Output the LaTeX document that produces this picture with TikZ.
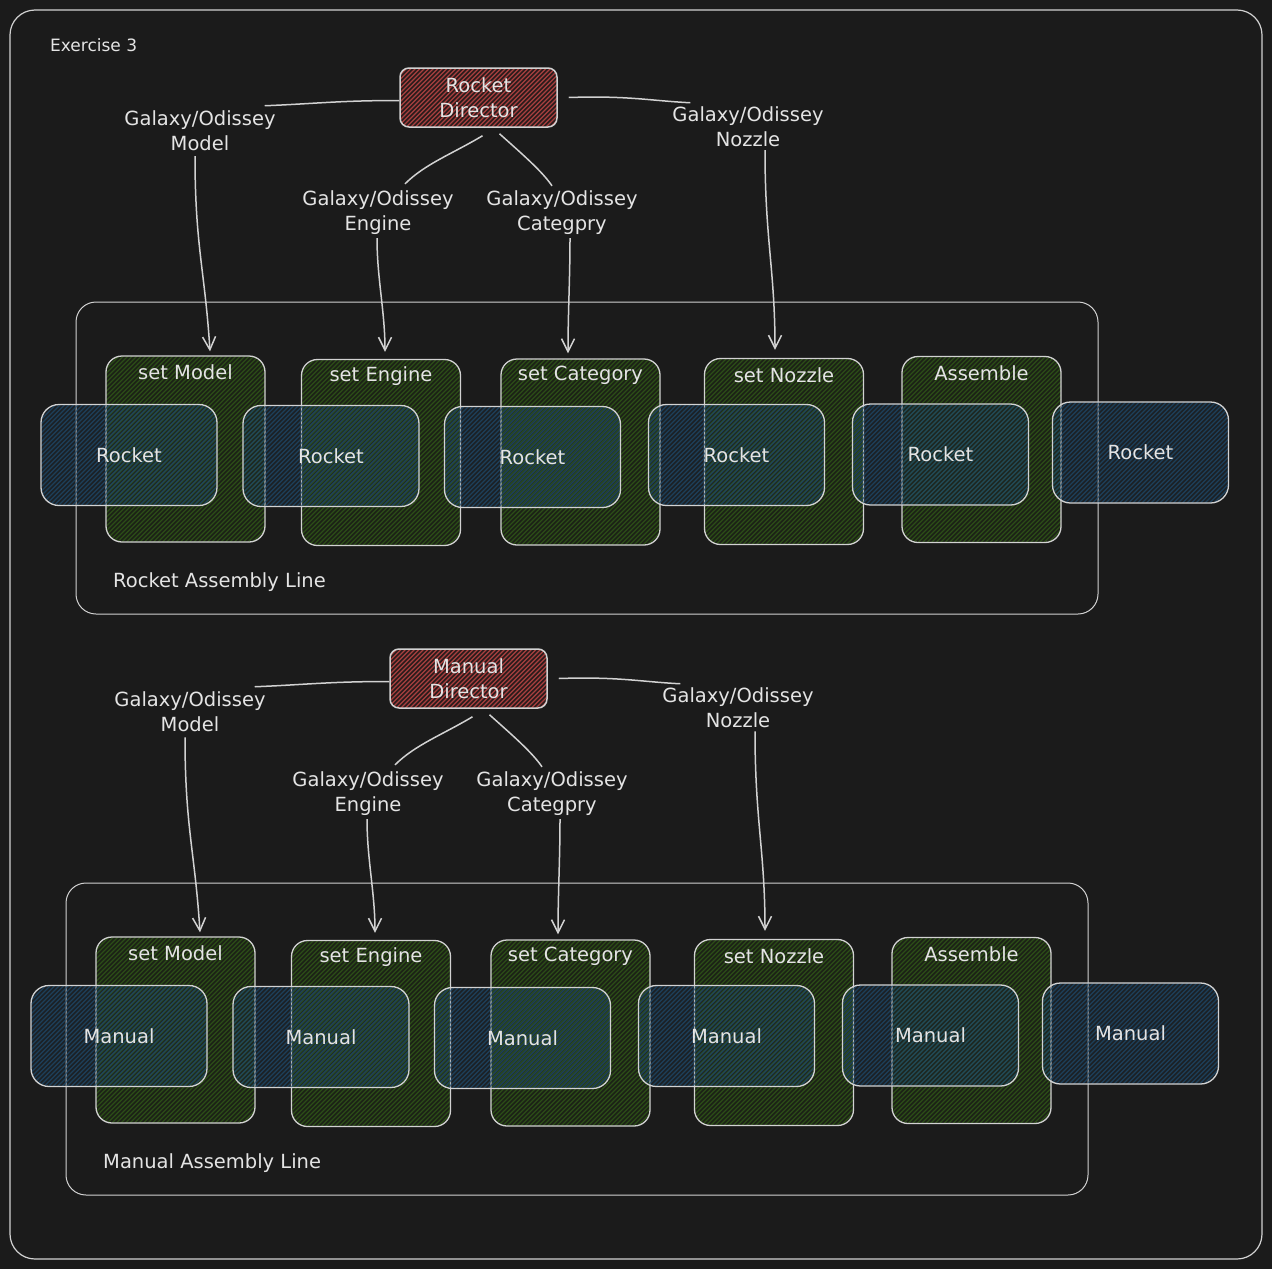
\documentclass[tikz,border=0pt]{standalone}
\usepackage{fontspec}
\setmainfont{DejaVu Sans}
\usetikzlibrary{arrows.meta,calc}
\definecolor{bgc}{HTML}{1B1B1B}
\definecolor{strokec}{HTML}{D2D2D2}
\definecolor{textc}{HTML}{E4E4E4}
\definecolor{redbase}{HTML}{2B1C1C}
\definecolor{redline}{HTML}{A8403F}
\definecolor{greenbase}{HTML}{1C2216}
\definecolor{greenline}{HTML}{2C4D18}
\definecolor{bluebase}{HTML}{1D3A52}
\definecolor{blueline}{HTML}{1F4A6C}
\tikzset{
  hatch/.style={path picture={
    \foreach \i in {-200,-195.5,...,200}{
      \draw[#1, line width=1.1pt] ([shift={(\i,0)}]path picture bounding box.center) +(-200,200) -- +(200,-200);}}},
  txt/.style={text=textc, font=\fontsize{19.5}{25}\selectfont, align=center, inner sep=0pt},
  frame/.style={draw=strokec, line width=1.2pt, rounded corners=25pt},
  container/.style={draw=strokec, line width=1pt, rounded corners=20pt, minimum width=1022pt, minimum height=312pt},
  dirbox/.style={txt, draw=strokec, line width=1.5pt, rounded corners=9pt, fill=redbase, hatch=redline,
    minimum width=157pt, minimum height=59pt},
  stepbox/.style={draw=strokec, line width=1.3pt, rounded corners=16pt, fill=greenbase, hatch=greenline,
    minimum width=159pt, minimum height=186pt},
  objbox/.style={txt, draw=strokec, line width=1.3pt, rounded corners=18pt,
    fill=bluebase, fill opacity=0.2, draw opacity=1, text opacity=1,
    hatch={blueline, opacity=0.75},
    minimum width=176pt, minimum height=101pt},
  conn/.style={draw=strokec, line width=1.5pt},
  arr/.style={conn, -{Straight Barb[length=13pt,width=13pt,line width=1.5pt]}},
}
\newcommand\asmline[3]{%
\begin{scope}[shift={#3}]
  \node[container] (#2line) at (587,458) {};
  \node[txt, anchor=west] (#2linelbl) at (113,582) {#1 Assembly Line};
  % step boxes
  \node[stepbox] (#2s1) at (185.5,449) {};
  \node[stepbox] (#2s2) at (381,452.5) {};
  \node[stepbox] (#2s3) at (580.5,452) {};
  \node[stepbox] (#2s4) at (784,451.5) {};
  \node[stepbox] (#2s5) at (981.5,449.5) {};
  \node[txt] (#2t1) at ([shift={(0,17)}]#2s1.north) {set Model};
  \node[txt] (#2t2) at ([shift={(0,17)}]#2s2.north) {set Engine};
  \node[txt] (#2t3) at ([shift={(0,17)}]#2s3.north) {set Category};
  \node[txt] (#2t4) at ([shift={(0,17)}]#2s4.north) {set Nozzle};
  \node[txt] (#2t5) at ([shift={(0,17)}]#2s5.north) {Assemble};
  % objects
  \node[objbox] (#2o1) at (129,455) {#1};
  \node[objbox] (#2o2) at (331,456) {#1};
  \node[objbox] (#2o3) at (532.5,457) {#1};
  \node[objbox] (#2o4) at (736.5,455) {#1};
  \node[objbox] (#2o5) at (940.5,454.5) {#1};
  \node[objbox] (#2o6) at (1140.5,452.5) {#1};
  % director and labels
  \node[dirbox] (#2dir) at (478.5,97.5) {#1\\Director};
  \node[txt] (#2lmodel) at (200,131) {Galaxy/Odissey\\Model};
  \node[txt] (#2lnozzle) at (748,127) {Galaxy/Odissey\\Nozzle};
  \node[txt] (#2lengine) at (378,213) {Galaxy/Odissey\\Engine};
  \node[txt] (#2lcat) at (562,213) {Galaxy/Odissey\\Categpry};
  % director lines
  \draw[conn] ([shift={(0,3)}]#2dir.west) .. controls +(-60,0) and +(50,-2) .. ([shift={(-11,-5)}]#2lmodel.north east);
  \draw[conn] ([shift={(11,0)}]#2dir.east) .. controls +(60,-2) and +(-40,-2) .. ([shift={(18,-4)}]#2lnozzle.north west);
  \draw[conn] ([shift={(4,8)}]#2dir.south) .. controls +(-30,18) and +(20,-20) .. ([shift={(27,-7)}]#2lengine.north);
  \draw[conn] ([shift={(21,6)}]#2dir.south) .. controls +(20,18) and +(-10,-15) .. ([shift={(-10,-5)}]#2lcat.north);
  % arrows
  \draw[arr] ([shift={(-5,5)}]#2lmodel.south) .. controls +(0,90) and +(-5,-80) .. ([shift={(24.5,-4)}]#2s1.north);
  \draw[arr] ([shift={(-1,3)}]#2lengine.south) .. controls +(0,40) and +(0,-40) .. ([shift={(4,-7)}]#2s2.north);
  \draw[arr] ([shift={(8,3)}]#2lcat.south) .. controls +(0,40) and +(0,-40) .. ([shift={(-12.5,-5)}]#2s3.north);
  \draw[arr] ([shift={(17,3)}]#2lnozzle.south) .. controls +(0,90) and +(0,-80) .. ([shift={(-9,-8)}]#2s4.north);
\end{scope}}
\begin{document}
\begin{tikzpicture}[x=1pt,y=-1pt]
  \useasboundingbox (0,0) rectangle (1272,1269);
  \fill[bgc] (0,0) rectangle (1272,1269);
  \draw[frame] (10,10) rectangle (1262,1259);
  \node[txt, anchor=west] (title) at (50,45) {\fontsize{17}{20}\selectfont Exercise 3};
  \asmline{Rocket}{r}{(0,0)}
  \asmline{Manual}{m}{(-10,581)}
\end{tikzpicture}
\end{document}
